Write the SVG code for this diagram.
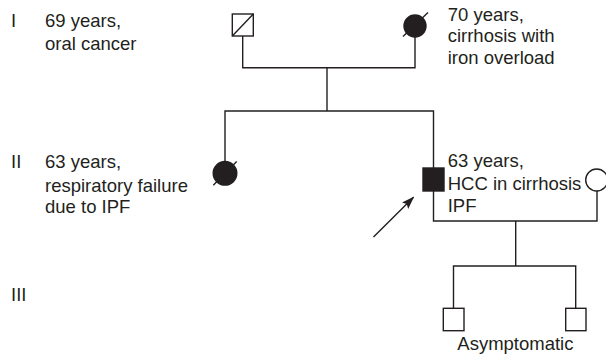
<svg xmlns="http://www.w3.org/2000/svg" width="606" height="356" viewBox="0 0 606 356">
<defs>
<style>
.ln{fill:none;stroke:#231f20;stroke-width:1.4}
.sym{fill:#fff;stroke:#231f20;stroke-width:1.4}
.aff{fill:#231f20;stroke:#231f20;stroke-width:1.4}
.tx{font-family:"Liberation Sans",Arial,sans-serif;font-size:18.5px;fill:#231f20}
</style>
<marker id="ah" markerWidth="13" markerHeight="9" refX="12" refY="4.5" orient="auto" markerUnits="userSpaceOnUse">
<path d="M0,0 L13,4.5 L0,9 L2.5,4.5 Z" fill="#231f20"/>
</marker>
</defs>
<rect width="606" height="356" fill="#fff"/>
<g id="connectors">
<path class="ln" d="M242.7,36 V67.7 H415 V37"/>
<path class="ln" d="M327,67.7 V111"/>
<path class="ln" d="M225,161.5 V111 H433.5 V168"/>
<path class="ln" d="M433.5,191 V221 H597 V191"/>
<path class="ln" d="M515.7,221 V266"/>
<path class="ln" d="M453.5,308.3 V266 H575.7 V308.3"/>
<line class="ln" x1="373.5" y1="237" x2="413.5" y2="197.3" marker-end="url(#ah)"/>
</g>
<g id="gen-labels">
<text class="tx" x="11" y="27.3">I</text>
<text class="tx" x="11" y="168.3">II</text>
<text class="tx" x="11" y="300.7">III</text>
</g>
<g id="I-1">
<rect class="sym" x="232.3" y="14" width="21" height="22"/>
<line class="ln" x1="232.3" y1="36" x2="253.3" y2="14"/>
<text class="tx" x="45" y="27.3">69 years,</text>
<text class="tx" x="45" y="50">oral cancer</text>
</g>
<g id="I-2">
<circle class="aff" cx="415" cy="26" r="11"/>
<line class="ln" x1="403" y1="36.5" x2="428" y2="12.5"/>
<text class="tx" x="447.7" y="20.7">70 years,</text>
<text class="tx" x="447.7" y="42.3">cirrhosis with</text>
<text class="tx" x="447.7" y="63.5">iron overload</text>
</g>
<g id="II-1">
<circle class="aff" cx="225" cy="173.3" r="11.8"/>
<line class="ln" x1="213.3" y1="185.3" x2="236.7" y2="161.5"/>
<text class="tx" x="45" y="168.3">63 years,</text>
<text class="tx" x="45" y="191.7">respiratory failure</text>
<text class="tx" x="45" y="212.5">due to IPF</text>
</g>
<g id="II-2">
<rect class="aff" x="423" y="168" width="21" height="23"/>
<text class="tx" x="447.7" y="166.7">63 years,</text>
<text class="tx" x="447.7" y="190">HCC in cirrhosis</text>
<text class="tx" x="447.7" y="212">IPF</text>
</g>
<g id="II-3">
<circle class="sym" cx="596.7" cy="180" r="11"/>
</g>
<g id="III-1">
<rect class="sym" x="443.3" y="308.3" width="20.7" height="22.4"/>
</g>
<g id="III-2">
<rect class="sym" x="565.7" y="308.3" width="20.3" height="22.4"/>
</g>
<text class="tx" x="457.3" y="350">Asymptomatic</text>
</svg>
